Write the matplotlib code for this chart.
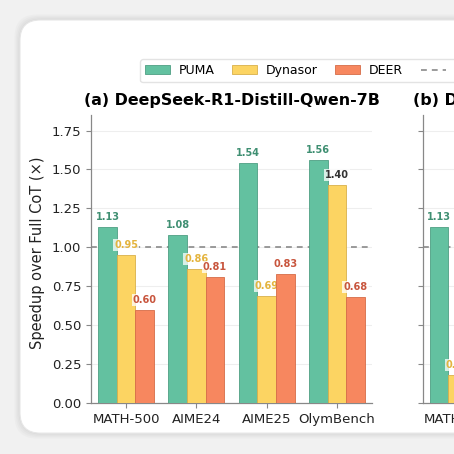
import numpy as np
import matplotlib
matplotlib.use("Agg")
import matplotlib.pyplot as plt
from matplotlib.patches import FancyBboxPatch, Patch
from matplotlib.lines import Line2D

# ===== 数据 =====
benchmarks = ["MATH-500", "AIME24", "AIME25", "OlymBench"]
methods = ["PUMA", "Dynasor", "DEER"]

# (a) DeepSeek-R1-Distill-Qwen-7B
puma_a = [1.13, 1.08, 1.54, 1.56]
dynasor_a = [0.95, 0.86, 0.69, 1.40]
deer_a = [0.60, 0.81, 0.83, 0.68]

# (b) 只看得到 MATH-500 的前两根柱子，其余被裁掉
puma_b = [1.13, 1.10, 1.40, 1.50]
dynasor_b = [0.18, 0.80, 0.70, 1.20]
deer_b = [0.60, 0.80, 0.80, 0.70]

bar_colors = ["#63c1a0", "#fcd462", "#f7875f"]
edge_colors = ["#4f9f83", "#d9b04a", "#d66c48"]
label_colors = ["#3f8f72", "#e4b43e", "#c8553d"]

fig = plt.figure(figsize=(4.54, 4.54), dpi=100)
fig.patch.set_facecolor("#f1f1f1")

# ===== 卡片背景 (圆角 + 阴影) =====
for i, a in enumerate([0.05, 0.05, 0.06, 0.08]):
    g = 0.012 - i * 0.003
    fig.add_artist(FancyBboxPatch((0.044 - g, 0.046 - g), 1.2, 0.91 + 2 * g,
                                  boxstyle="round,pad=0,rounding_size=0.05",
                                  transform=fig.transFigure, facecolor="#9a9a9a",
                                  edgecolor="none", alpha=a, zorder=0))
fig.add_artist(FancyBboxPatch((0.044, 0.046), 1.2, 0.91,
                              boxstyle="round,pad=0,rounding_size=0.045",
                              transform=fig.transFigure, facecolor="white",
                              edgecolor="#e6e6e6", lw=0.8, zorder=0))


def draw_panel(ax, series, title, ylabel=None, dark_idx=None):
    x = np.arange(len(benchmarks))
    w = 0.265
    ax.set_facecolor("none")
    ax.axhline(1.0, color="#8a8a8a", ls=(0, (3.5, 3)), lw=1.2, zorder=1)
    for k, vals in enumerate(series):
        pos = x + (k - 1) * w
        ax.bar(pos, vals, w, color=bar_colors[k], edgecolor=edge_colors[k],
               lw=0.6, zorder=3)
        for j, (p, v) in enumerate(zip(pos, vals)):
            c = label_colors[k]
            if dark_idx is not None and (k, j) == dark_idx:
                c = "#333333"
            ax.text(p, v + 0.064, f"{v:.2f}", ha="center", va="center",
                    fontsize=7, fontweight="bold", color=c, zorder=3,
                    bbox=dict(boxstyle="square,pad=0.1", fc="white",
                              ec="none", alpha=0.75))
    ax.set_xlim(-0.5, len(benchmarks) - 0.5)
    ax.set_ylim(0, 1.85)
    ax.set_yticks(np.arange(0, 1.76, 0.25))
    ax.set_xticks(x)
    ax.set_xticklabels(benchmarks)
    ax.tick_params(colors="#888888", length=3.5, width=0.8)
    ax.tick_params(labelsize=9.5, labelcolor="#222222")
    ax.yaxis.grid(True, color="#eeeeee", lw=0.8, zorder=0)
    ax.set_axisbelow(True)
    for s in ["top", "right"]:
        ax.spines[s].set_visible(False)
    for s in ["left", "bottom"]:
        ax.spines[s].set_color("#888888")
        ax.spines[s].set_linewidth(0.9)
    ax.set_title(title, fontsize=11.4, fontweight="bold", pad=7)
    if ylabel:
        ax.set_ylabel(ylabel, fontsize=10.5, color="#222222", labelpad=2)


ax1 = fig.add_axes([91 / 454, 1 - 403 / 454, 281 / 454, 288 / 454])
draw_panel(ax1, [puma_a, dynasor_a, deer_a], "(a) DeepSeek-R1-Distill-Qwen-7B",
           ylabel="Speedup over Full CoT (×)", dark_idx=(1, 3))
ax1.yaxis.set_label_coords(-0.162, 0.52)

ax2 = fig.add_axes([422.5 / 454, 1 - 403 / 454, 281 / 454, 288 / 454])
draw_panel(ax2, [puma_b, dynasor_b, deer_b], "(b) DeepSeek-R1-Distill-Llama-8B")
ax2.set_yticklabels([])

# ===== 图例 =====
handles = [Patch(facecolor=bar_colors[k], edgecolor=edge_colors[k], lw=0.6)
           for k in range(3)]
handles.append(Line2D([0], [0], color="#8a8a8a", ls=(0, (3.5, 3)), lw=1.2))
fig.legend(handles, methods + ["Full CoT (1.0×)"], loc="upper left",
           bbox_to_anchor=(140 / 454, 1 - 59 / 454), ncol=4, fontsize=9,
           frameon=True, fancybox=True, edgecolor="#dddddd",
           borderaxespad=0, columnspacing=1.4, handlelength=2.0,
           handletextpad=0.7)

fig.savefig("out.png", dpi=100, facecolor=fig.get_facecolor())
